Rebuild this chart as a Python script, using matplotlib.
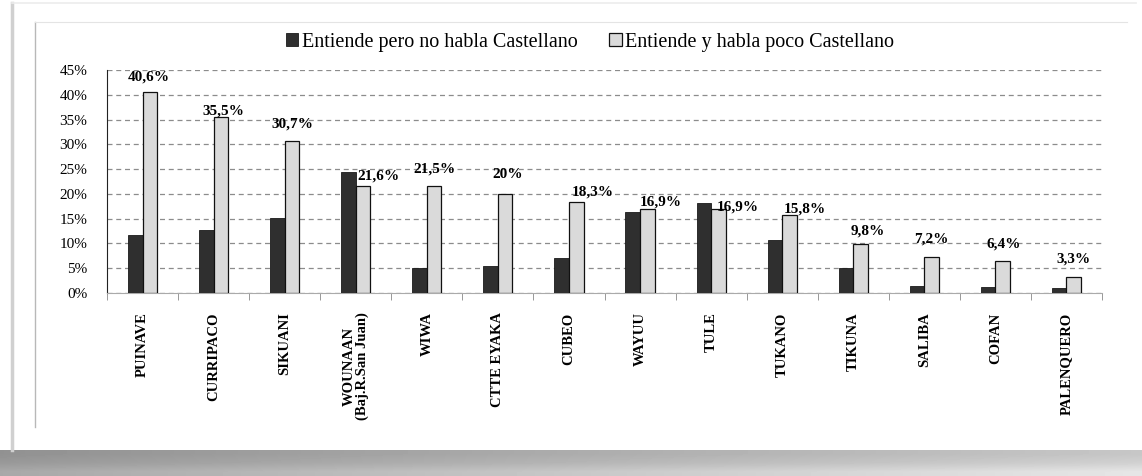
import matplotlib
matplotlib.use("Agg")
import matplotlib.pyplot as plt
import numpy as np
from matplotlib.lines import Line2D

# data
pueblos = ["PUINAVE", "CURRIPACO", "SIKUANI", "WOUNAAN\n(Baj.R.San Juan)", "WIWA",
           "CTTE EYAKA", "CUBEO", "WAYUU", "TULE", "TUKANO", "TIKUNA", "SALIBA",
           "COFAN", "PALENQUERO"]
entiende_no_habla = [11.7, 12.7, 15.2, 24.5, 5.1, 5.5, 7.0, 16.3, 18.1, 10.6, 5.1, 1.5, 1.2, 1.0]
entiende_habla_poco = [40.6, 35.5, 30.7, 21.6, 21.5, 20.0, 18.3, 16.9, 16.9, 15.8, 9.8, 7.2, 6.4, 3.3]
etiquetas = ["40,6%", "35,5%", "30,7%", "21,6%", "21,5%", "20%", "18,3%", "16,9%",
             "16,9%", "15,8%", "9,8%", "7,2%", "6,4%", "3,3%"]
serie_nombres = ["Entiende pero no habla Castellano", "Entiende y habla poco Castellano"]
yticks = [0, 5, 10, 15, 20, 25, 30, 35, 40, 45]

plt.rcParams['font.family'] = ['Liberation Serif', 'DejaVu Serif']

W, H = 1142, 476
fig = plt.figure(figsize=(W / 100, H / 100), dpi=100)
fig.patch.set_facecolor("white")

# shadow band under the card
sh = fig.add_axes([0.0, 0.0, 1.0, 26 / H])
gx = np.linspace(0, 1, 300)
row = 0.60 + 0.22 * gx
grad = np.vstack([row * 0.95, row, row * 1.1])
sh.imshow(np.clip(grad, 0, 1), aspect="auto", cmap="gray", vmin=0, vmax=1,
          extent=[0, 1, 0, 1], interpolation="bilinear")
sh.axis("off")


def fline(xs, ys, **kw):
    fig.lines.append(Line2D([v / W for v in xs], [1 - v / H for v in ys],
                            transform=fig.transFigure, **kw))


# card edges
fline([12, 12], [3, 450], color="#d0d0d0", lw=2.5)
fline([12, 1136], [3, 3], color="#ececec", lw=1.2)
# chart area border
fline([35, 35], [22, 427], color="#b8b8b8", lw=1.0)
fline([35, 1127], [22, 22], color="#e4e4e4", lw=0.8)

ax = fig.add_axes([107 / W, (H - 293) / H, 995 / W, 223 / H])
x = np.arange(len(pueblos))
w = 0.205
b1 = ax.bar(x - w / 2, entiende_no_habla, w, color="#2f2f2f", edgecolor="#1a1a1a",
            lw=0.6, label=serie_nombres[0], zorder=3)
b2 = ax.bar(x + w / 2, entiende_habla_poco, w, color="#dadada", edgecolor="#111111",
            lw=0.9, label=serie_nombres[1], zorder=3)

# value labels above the light bars (offsets in pixels)
dx = [-1, 2, 0, 15, 0, 2, 16, 13, 19, 15, 7, 0, 1, 0]
dy = [15, 6, 17, 10, 17, 19, 10, 7, 2, 6, 13, 18, 17, 18]
for i, (v, t) in enumerate(zip(entiende_habla_poco, etiquetas)):
    ax.annotate(t, (x[i] + w / 2, v), xytext=(dx[i] * 0.72, dy[i] * 0.72),
                textcoords="offset points", ha="center", va="center",
                fontsize=11, fontweight="bold", zorder=4)

ax.set_ylim(0, 45)
ax.set_xlim(-0.5, len(pueblos) - 0.5)
ax.set_yticks(yticks)
ax.set_yticklabels([f"{t}%" for t in yticks], fontsize=11)
ax.yaxis.grid(True, ls=(0, (4, 3)), color="#8c8c8c", lw=0.9, zorder=0)
ax.set_xticks(x)
ax.set_xticklabels(pueblos, rotation=90, fontsize=10.5, fontweight="bold", va="top",
                   linespacing=1.0)
ax.tick_params(axis="x", length=0, pad=14)
ax.set_xticks(np.arange(-0.5, len(pueblos)), minor=True)
ax.tick_params(axis="x", which="minor", length=5, color="#888888")
ax.tick_params(axis="y", length=0, pad=14)
for s in ["top", "right"]:
    ax.spines[s].set_visible(False)
ax.spines["bottom"].set_color("#aaaaaa")
ax.spines["left"].set_color("#222222")

fig.legend(handles=[b1, b2], loc="center", bbox_to_anchor=(590 / W, 1 - 42 / H), ncol=2,
           frameon=False, fontsize=14.5, handlelength=0.6, handleheight=0.6,
           handletextpad=0.15, columnspacing=1.6)

fig.savefig("out.png", dpi=100)
